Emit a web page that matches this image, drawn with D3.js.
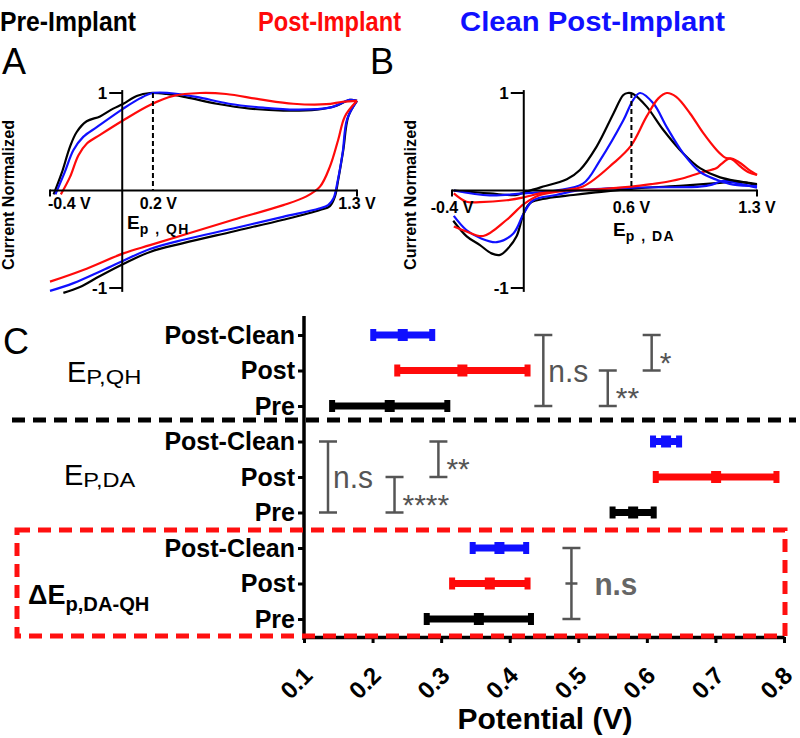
<!DOCTYPE html>
<html><head><meta charset="utf-8">
<script src="https://cdn.jsdelivr.net/npm/d3@7"></script>
<style>body{margin:0;background:#fff} svg{display:block}</style>
</head><body><svg id="c" width="800" height="738"></svg>
<script>
// ================= DATA =================
const legendNames = ["Pre-Implant", "Post-Implant", "Clean Post-Implant"];

// Panel A: normalized background CV (potential V, normalized current)
const qhPreFwd = [[-0.38,-0.04],[-0.335,0.18],[-0.289,0.45],[-0.252,0.60],[-0.197,0.71],[-0.123,0.76],[-0.05,0.84],[0.006,0.89],[0.08,0.97],[0.154,1.0],[0.246,0.99],[0.357,0.955],[0.523,0.89],[0.707,0.84],[0.892,0.82],[1.077,0.83],[1.187,0.87],[1.261,0.93],[1.3,0.92]];
const qhPreRev = [[1.3,0.92],[1.252,0.76],[1.224,0.415],[1.196,0.11],[1.178,-0.06],[1.15,-0.16],[1.095,-0.20],[0.892,-0.30],[0.615,-0.42],[0.338,-0.54],[0.154,-0.63],[0.006,-0.754],[-0.123,-0.877],[-0.234,-0.99],[-0.326,-1.05]];
const qhPostFwd = [[-0.34,-0.04],[-0.289,0.14],[-0.243,0.36],[-0.197,0.48],[-0.123,0.57],[0.006,0.72],[0.154,0.877],[0.283,0.97],[0.43,1.0],[0.575,0.99],[0.763,0.935],[0.947,0.89],[1.13,0.885],[1.22,0.91],[1.3,0.92]];
const qhPostRev = [[1.3,0.92],[1.233,0.76],[1.196,0.52],[1.15,0.245],[1.095,0.04],[1.02,-0.06],[0.892,-0.15],[0.615,-0.30],[0.338,-0.456],[0.154,-0.56],[0.006,-0.645],[-0.216,-0.815],[-0.4,-0.935]];
const qhCleanFwd = [[-0.37,-0.04],[-0.32,0.18],[-0.27,0.415],[-0.216,0.55],[-0.141,0.65],[0.006,0.84],[0.098,0.945],[0.17,1.0],[0.26,1.0],[0.41,0.96],[0.59,0.89],[0.78,0.85],[0.96,0.83],[1.15,0.85],[1.26,0.93],[1.3,0.92]];
const qhCleanRev = [[1.3,0.92],[1.245,0.73],[1.22,0.38],[1.19,0.07],[1.17,-0.08],[1.14,-0.15],[1.09,-0.185],[0.89,-0.27],[0.615,-0.39],[0.34,-0.505],[0.154,-0.6],[0.006,-0.72],[-0.123,-0.83],[-0.27,-0.95],[-0.4,-1.03]];
const epQH = 0.17;
const aTickValues = [-0.4, 0.2, 1.3];
const aTickLabels = ["-0.4 V", "0.2 V", "1.3 V"];

// Panel B: normalized dopamine CV
const daPreFwd = [[-0.39,0.0],[-0.19,-0.03],[-0.04,-0.046],[0.0,-0.02],[0.09,0.03],[0.24,0.115],[0.313,0.21],[0.406,0.45],[0.5,0.79],[0.555,0.98],[0.58,1.0],[0.61,0.99],[0.685,0.86],[0.778,0.62],[0.889,0.38],[0.982,0.23],[1.094,0.135],[1.3,0.067]];
const daPreRev = [[1.3,0.05],[1.24,0.08],[1.187,0.09],[1.075,0.075],[0.889,0.05],[0.61,0.02],[0.4,-0.02],[0.276,-0.046],[0.128,-0.08],[0.035,-0.13],[0.0,-0.235],[-0.04,-0.47],[-0.086,-0.59],[-0.132,-0.66],[-0.18,-0.645],[-0.244,-0.56],[-0.318,-0.47],[-0.393,-0.31]];
const daPostFwd = [[-0.39,-0.03],[-0.32,-0.115],[-0.245,-0.12],[-0.095,-0.1],[0.0,-0.07],[0.09,-0.03],[0.2,0.0],[0.33,0.04],[0.5,0.28],[0.598,0.46],[0.685,0.76],[0.75,0.945],[0.797,1.0],[0.85,0.96],[0.927,0.79],[1.0,0.59],[1.075,0.415],[1.12,0.34],[1.16,0.32],[1.205,0.25],[1.25,0.19],[1.3,0.16]];
const daPostRev = [[1.3,0.16],[1.25,0.22],[1.2,0.29],[1.15,0.33],[1.1,0.27],[1.075,0.23],[0.98,0.18],[0.889,0.125],[0.8,0.09],[0.71,0.065],[0.6,0.04],[0.43,0.015],[0.24,0.0],[0.09,-0.046],[0.0,-0.14],[-0.095,-0.30],[-0.226,-0.467],[-0.32,-0.42],[-0.39,-0.37]];
const daCleanFwd = [[-0.39,0.0],[-0.19,-0.05],[0.0,-0.03],[0.18,0.0],[0.33,0.07],[0.425,0.31],[0.555,0.72],[0.61,0.93],[0.648,1.0],[0.722,0.894],[0.797,0.65],[0.889,0.38],[0.982,0.19],[1.075,0.11],[1.168,0.06],[1.3,0.045]];
const daCleanRev = [[1.3,0.03],[1.2,0.07],[1.112,0.1],[1.05,0.06],[0.98,0.04],[0.61,0.03],[0.3,0.0],[0.18,-0.046],[0.053,-0.1],[0.0,-0.235],[-0.058,-0.44],[-0.15,-0.53],[-0.24,-0.49],[-0.32,-0.405],[-0.39,-0.26]];
const epDA = 0.6;
const bTickValues = [-0.4, 0.6, 1.3];
const bTickLabels = ["-0.4 V", "0.6 V", "1.3 V"];

// Panel C: peak potentials (mean ± sd), rows Post-Clean, Post, Pre
const rowConditions = ["Post-Clean", "Post", "Pre"];
const qhMean = [0.244, 0.331, 0.225], qhSD = [0.043, 0.095, 0.084];
const daMean = [0.628, 0.701, 0.580], daSD = [0.019, 0.088, 0.030];
const dMean  = [0.385, 0.371, 0.355], dSD  = [0.039, 0.055, 0.076];
const qhStats = [{x:0.449,from:0,to:2,label:"n.s"},{x:0.543,from:1,to:2,label:"**"},{x:0.607,from:0,to:1,label:"*"}];
const daStats = [{x:0.135,from:0,to:2,label:"n.s"},{x:0.232,from:1,to:2,label:"****"},{x:0.296,from:0,to:1,label:"**"}];
const dStats  = [{x:0.490,from:0,to:2,label:"n.s",mid:1}];
const xTicksC = [0.1,0.2,0.3,0.4,0.5,0.6,0.7,0.8];

// ================= STYLE =================
const FONT = "'Liberation Sans', Arial, Helvetica, sans-serif";
const BLACK = "#000", RED = "#ff0a0a", BLUE = "#1010ff", GRAY = "#555";
const svg = d3.select("#c").style("font-family", FONT);

// ---- legend titles ----
const titleX = [0, 258, 460], titleCol = [BLACK, RED, BLUE], titleLen = [136, 143, 265];
legendNames.forEach((t,i) => {
  svg.append("text").attr("x", titleX[i]).attr("y", 31).attr("font-size", 27).attr("font-weight", "bold")
    .attr("fill", titleCol[i]).attr("textLength", titleLen[i]).attr("lengthAdjust", "spacingAndGlyphs").text(t);
});

// ---- panel letters ----
[["A",2,74],["B",370,74],["C",3,354]].forEach(([t,x,y]) =>
  svg.append("text").attr("x",x).attr("y",y).attr("font-size",36).text(t));

// ================= PANELS A & B =================
const line = (xs, ys) => d3.line().x(d => xs(d[0])).y(d => ys(d[1])).curve(d3.curveCatmullRom.alpha(0.5));

function cvPanel(x0, x1, curves, ep, tickVals, tickLabs, anchorFirst, labY, epSub, epPos) {
  const xs = d3.scaleLinear().domain([-0.4, 1.3]).range([x0, x1]);
  const ys = d3.scaleLinear().domain([-1, 1]).range([288, 93]);
  const g = svg.append("g");
  curves.forEach(([data, col]) => {
    g.append("path").attr("d", line(xs, ys)(data)).attr("fill", "none").attr("stroke", col).attr("stroke-width", 2.2);
  });
  g.append("line").attr("x1", xs(-0.4)).attr("x2", xs(1.3)).attr("y1", ys(0)).attr("y2", ys(0)).attr("stroke", "#000").attr("stroke-width", 2);
  [-0.4, 1.3].forEach(v => g.append("line").attr("x1", xs(v)).attr("x2", xs(v)).attr("y1", ys(0)-1).attr("y2", ys(0)+6).attr("stroke", "#000").attr("stroke-width", 2));
  g.append("line").attr("x1", xs(0)).attr("x2", xs(0)).attr("y1", ys(1.03)).attr("y2", ys(-1.04)).attr("stroke", "#000").attr("stroke-width", 2);
  [1, -1].forEach(v => {
    g.append("line").attr("x1", xs(0)-13).attr("x2", xs(0)).attr("y1", ys(v)).attr("y2", ys(v)).attr("stroke", "#000").attr("stroke-width", 2);
    g.append("text").attr("x", xs(0)-15).attr("y", ys(v)).attr("dy", "0.36em").attr("text-anchor", "end")
      .attr("font-size", 17).attr("font-weight", "bold").text(v);
  });
  g.append("line").attr("x1", xs(ep)).attr("x2", xs(ep)).attr("y1", ys(1)).attr("y2", ys(0)).attr("stroke", "#000")
    .attr("stroke-width", 2).attr("stroke-dasharray", "5,3");
  tickVals.forEach((v,i) => {
    g.append("text").attr("x", xs(v) + (i===0 && anchorFirst ? -2 : 0)).attr("y", labY)
      .attr("text-anchor", i===0 && anchorFirst ? "start" : "middle")
      .attr("font-size", 16).attr("font-weight", "bold").text(tickLabs[i]);
  });
  const t = g.append("text").attr("x", epPos[0]).attr("y", epPos[1]).attr("font-size", 19).attr("font-weight", "bold");
  t.append("tspan").text("E");
  t.append("tspan").attr("dy", 5).attr("font-size", 14).attr("letter-spacing", 1.5).text(epSub);
  g.append("text").attr("transform", `translate(${x0 - 36},195) rotate(-90)`).attr("text-anchor", "middle")
    .attr("font-size", 16).attr("font-weight", "bold").attr("textLength", 150).attr("lengthAdjust", "spacingAndGlyphs")
    .text("Current Normalized");
}

cvPanel(50, 357, [[qhPreRev,BLACK],[qhCleanRev,BLUE],[qhPostRev,RED],[qhPreFwd,BLACK],[qhCleanFwd,BLUE],[qhPostFwd,RED]],
  epQH, aTickValues, aTickLabels, true, 209, "p , QH", [127, 229]);
cvPanel(452, 757, [[daPreRev,BLACK],[daCleanRev,BLUE],[daPostRev,RED],[daPreFwd,BLACK],[daCleanFwd,BLUE],[daPostFwd,RED]],
  epDA, bTickValues, bTickLabels, false, 213, "p , DA", [613, 236]);

// ================= PANEL C =================
const xC = d3.scaleLinear().domain([0.1, 0.8]).range([304, 784]);
const rowLabels = [].concat(rowConditions, rowConditions, rowConditions);
const yC = d3.scalePoint().domain(d3.range(9)).range([335, 619]);
const rowCol = [BLUE, RED, BLACK];

svg.append("line").attr("x1", 12).attr("x2", 796).attr("y1", 420).attr("y2", 420)
  .attr("stroke", "#000").attr("stroke-width", 5).attr("stroke-dasharray", "13,8");

const yAx = svg.append("g").attr("transform", "translate(304,0)")
  .call(d3.axisLeft(yC).tickSize(6).tickPadding(3).tickFormat(i => rowLabels[i]));
yAx.select(".domain").remove();
yAx.selectAll(".tick line").attr("stroke-width", 3);
yAx.selectAll(".tick text").attr("font-size", 25).attr("font-weight", "bold").attr("font-family", FONT).attr("fill", "#000");
svg.append("line").attr("x1", 304).attr("x2", 304).attr("y1", 316).attr("y2", 640).attr("stroke", "#000").attr("stroke-width", 3.5);

const xAx = svg.append("g").attr("transform", "translate(0,637)")
  .call(d3.axisBottom(xC).tickValues(xTicksC).tickSize(6).tickSizeOuter(0).tickFormat(d3.format(".1f")));
xAx.select(".domain").attr("stroke-width", 3.5);
xAx.selectAll(".tick line").attr("stroke-width", 3);
xAx.selectAll(".tick text").remove();
xTicksC.forEach(v => {
  svg.append("text").attr("text-anchor", "end").attr("transform", `translate(${xC(v)+10},677) rotate(-45)`)
    .attr("font-size", 24).attr("font-weight", "bold").text(d3.format(".1f")(v));
});
svg.append("text").attr("x", 545).attr("y", 729).attr("text-anchor", "middle").attr("font-size", 30).attr("font-weight", "bold").text("Potential (V)");

function errorBars(g, means, sds) {
  means.forEach((m, c) => {
    const y = yC(g*3 + c), col = rowCol[c];
    const lo = xC(m - sds[c]), hi = xC(m + sds[c]);
    svg.append("line").attr("x1", lo).attr("x2", hi).attr("y1", y).attr("y2", y).attr("stroke", col).attr("stroke-width", 7);
    [lo, hi].forEach(x => svg.append("rect").attr("x", x - 3).attr("y", y - 6).attr("width", 6).attr("height", 12).attr("fill", col));
    svg.append("rect").attr("x", xC(m) - 5).attr("y", y - 6).attr("width", 10).attr("height", 12).attr("fill", col);
  });
}
errorBars(0, qhMean, qhSD);
errorBars(1, daMean, daSD);
errorBars(2, dMean, dSD);

function brackets(g, stats, bold) {
  stats.forEach(s => {
    const x = xC(s.x), y1 = yC(g*3 + s.from), y2 = yC(g*3 + s.to);
    const b = svg.append("g").attr("stroke", GRAY).attr("stroke-width", 2.5);
    b.append("line").attr("x1", x).attr("x2", x).attr("y1", y1).attr("y2", y2);
    b.append("line").attr("x1", x-9).attr("x2", x+9).attr("y1", y1).attr("y2", y1);
    b.append("line").attr("x1", x-9).attr("x2", x+9).attr("y1", y2).attr("y2", y2);
    if (s.mid !== undefined) { const ym = yC(g*3 + s.mid); b.append("line").attr("x1", x-6).attr("x2", x+6).attr("y1", ym).attr("y2", ym); }
    if (s.label === "n.s") {
      svg.append("text").attr("x", x + (bold ? 23 : 5)).attr("y", (y1 + y2)/2 + 11)
        .attr("font-size", 32).attr("fill", bold ? "#666" : GRAY).attr("font-weight", bold ? "bold" : "normal")
        .attr("textLength", bold ? 43 : 40).attr("lengthAdjust", "spacingAndGlyphs").text("n.s");
    } else {
      svg.append("text").attr("x", x + 8).attr("y", y2 + 2).attr("font-size", 30).attr("fill", GRAY).text(s.label);
    }
  });
}
brackets(0, qhStats, false);
brackets(1, daStats, false);
brackets(2, dStats, true);

function groupLabel(main, sub, x, y, bold, mainSize, subSize, subLen) {
  const t = svg.append("text").attr("x", x).attr("y", y).attr("font-size", mainSize).attr("font-weight", bold ? "bold" : "normal");
  t.append("tspan").text(main);
  t.append("tspan").attr("dy", bold ? 7 : 2).attr("font-size", subSize).attr("textLength", subLen)
    .attr("lengthAdjust", "spacingAndGlyphs").text(sub);
}
groupLabel("E", "P,QH", 67, 382, false, 29, 20, 55);
groupLabel("E", "P,DA", 64, 485, false, 29, 20, 52);
groupLabel("\u0394E", "p,DA-QH", 28, 604, true, 27, 20, 84);

svg.append("rect").attr("x", 17).attr("y", 530).attr("width", 768).attr("height", 106)
  .attr("fill", "none").attr("stroke", "#ff1010").attr("stroke-width", 5).attr("stroke-dasharray", "13,8");
</script>
</body></html>
